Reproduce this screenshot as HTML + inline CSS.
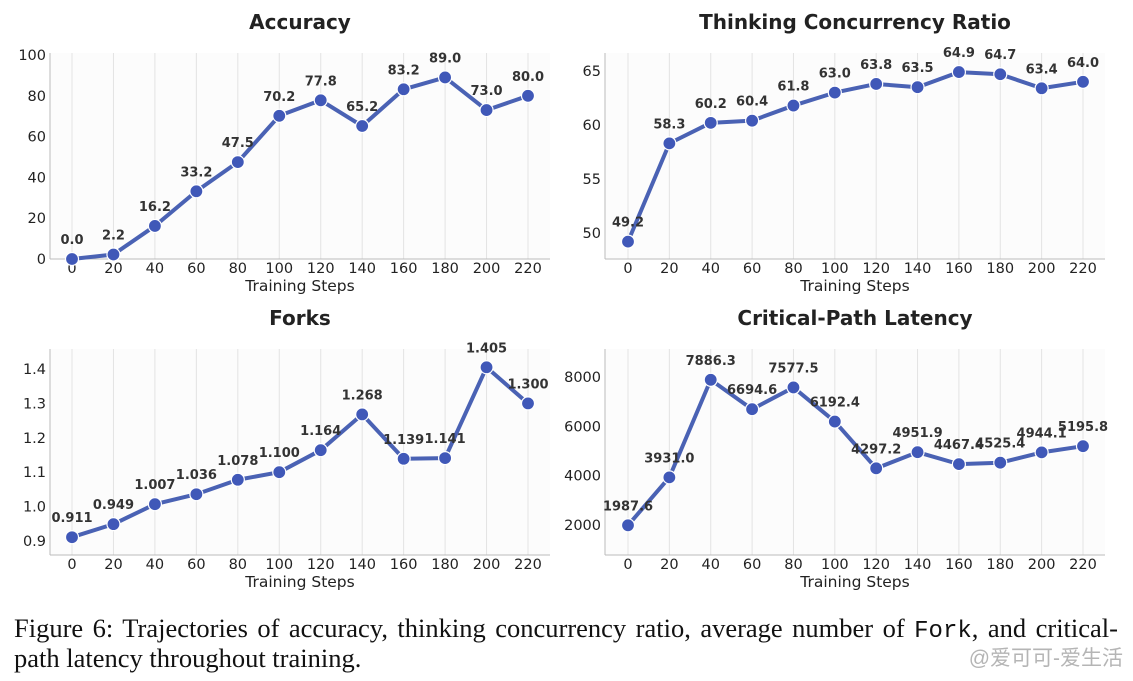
<!DOCTYPE html>
<html><head><meta charset="utf-8"><style>
body{margin:0;background:#fff;width:1133px;height:681px;overflow:hidden;position:relative}
svg{position:absolute;left:0;top:0}
.cap{position:absolute;left:14px;width:1104px;font-family:"Liberation Serif",serif;font-size:26.5px;line-height:30px;color:#111;white-space:nowrap}
.l1{top:613px;text-align:justify;text-align-last:justify}
.l2{top:643px}
.mono{font-family:"Liberation Mono",monospace;font-size:24px}
.wm{position:absolute;right:10px;top:642px;font-family:"Liberation Sans","Noto Sans CJK SC",sans-serif;font-size:21px;color:#b5b5b5}
</style></head><body>
<svg id="chart" width="1133" height="681"></svg>
<div class="cap l1">Figure 6: Trajectories of accuracy, thinking concurrency ratio, average number of <span class="mono">Fork</span>, and critical-</div>
<div class="cap l2">path latency throughout training.</div>
<div class="wm">@爱可可-爱生活</div>
<script>
const steps=[0,20,40,60,80,100,120,140,160,180,200,220];
const accuracy=[0.0,2.2,16.2,33.2,47.5,70.2,77.8,65.2,83.2,89.0,73.0,80.0];
const accLabels=["0.0","2.2","16.2","33.2","47.5","70.2","77.8","65.2","83.2","89.0","73.0","80.0"];
const ratio=[49.2,58.3,60.2,60.4,61.8,63.0,63.8,63.5,64.9,64.7,63.4,64.0];
const ratioLabels=["49.2","58.3","60.2","60.4","61.8","63.0","63.8","63.5","64.9","64.7","63.4","64.0"];
const forks=[0.911,0.949,1.007,1.036,1.078,1.100,1.164,1.268,1.139,1.141,1.405,1.300];
const forkLabels=["0.911","0.949","1.007","1.036","1.078","1.100","1.164","1.268","1.139","1.141","1.405","1.300"];
const latency=[1987.6,3931.0,7886.3,6694.6,7577.5,6192.4,4297.2,4951.9,4467.4,4525.4,4944.1,5195.8];
const latLabels=["1987.6","3931.0","7886.3","6694.6","7577.5","6192.4","4297.2","4951.9","4467.4","4525.4","4944.1","5195.8"];
const accTicks=[0,20,40,60,80,100];
const ratioTicks=[50,55,60,65];
const forkTicks=[0.9,1.0,1.1,1.2,1.3,1.4];
const forkTickLabels=["0.9","1.0","1.1","1.2","1.3","1.4"];
const latTicks=[2000,4000,6000,8000];

const svg=document.getElementById('chart');
const NS='http://www.w3.org/2000/svg';
function mk(tag,attrs,parent){const e=document.createElementNS(NS,tag);for(const k in attrs)e.setAttribute(k,attrs[k]);(parent||svg).appendChild(e);return e;}
function panel(o){
  const g=mk('g',{});
  
  
  const sx=v=>o.x0+(v-0)*(o.x1-o.x0)/220;
  const sy=v=>o.yA+(v-o.vA)*(o.yB-o.yA)/(o.vB-o.vA);
  mk('rect',{x:o.L,y:o.T,width:o.R-o.L,height:o.B-o.T,fill:'#fcfcfc'},g);
  steps.forEach(s=>{const l=mk('line',{x1:sx(s),x2:sx(s),y1:o.T,y2:o.B,stroke:'#e3e3e3','stroke-width':1},g);
    
    const t=mk('text',{x:sx(s),y:o.B+14,'text-anchor':'middle','font-size':14.5,'font-family':'DejaVu Sans, sans-serif',fill:'#222'},g);t.textContent=s;
    });
  mk('line',{x1:o.L,x2:o.L,y1:o.T,y2:o.B,stroke:'#bbb'},g);
  mk('line',{x1:o.L,x2:o.R,y1:o.B,y2:o.B,stroke:'#bbb'},g);
  o.ticks.forEach((v,i)=>{const t=mk('text',{x:o.L-4,y:sy(v)+5,'text-anchor':'end','font-size':14.5,'font-family':'DejaVu Sans, sans-serif',fill:'#222'},g);t.textContent=o.tickLabels?o.tickLabels[i]:v;
    });
  const tt=mk('text',{x:(o.L+o.R)/2,y:o.T-24,'text-anchor':'middle','font-size':20,'font-weight':'bold','font-family':'DejaVu Sans, sans-serif',fill:'#222'},g);tt.textContent=o.title;
  
  const xl=mk('text',{x:(o.L+o.R)/2,y:o.B+32,'text-anchor':'middle','font-size':15.5,'font-family':'DejaVu Sans, sans-serif',fill:'#222'},g);xl.textContent='Training Steps';
  
  const pts=o.data.map((v,i)=>sx(steps[i])+','+sy(v)).join(' ');
  const pl=mk('polyline',{points:pts,fill:'none',stroke:'#4a62b4','stroke-width':4,'stroke-linejoin':'round'},g);
  
  o.data.forEach((v,i)=>{
    const c=mk('circle',{cx:sx(steps[i]),cy:sy(v),r:6.5,fill:'#4058b8',stroke:'#fff','stroke-width':1.2},g);
    
    const t=mk('text',{x:sx(steps[i]),y:sy(v)-15,'text-anchor':'middle','font-size':13,'font-weight':'bold','font-family':'DejaVu Sans, sans-serif',fill:'#333'},g);t.textContent=o.labels[i];
    });
}
panel({name:'accuracy-panel',title:'Accuracy',L:50,R:550,T:53,B:259,x0:72,x1:528,vA:0,yA:259,vB:100,yB:55,data:accuracy,labels:accLabels,ticks:accTicks});
panel({name:'concurrency-ratio-panel',title:'Thinking Concurrency Ratio',L:605,R:1105,T:53,B:259,x0:628,x1:1083,vA:50,yA:233,vB:65,yB:71,data:ratio,labels:ratioLabels,ticks:ratioTicks});
panel({name:'forks-panel',title:'Forks',L:50,R:550,T:349,B:555,x0:72,x1:528,vA:0.9,yA:541,vB:1.4,yB:369,data:forks,labels:forkLabels,ticks:forkTicks,tickLabels:forkTickLabels});
panel({name:'latency-panel',title:'Critical-Path Latency',L:605,R:1105,T:349,B:555,x0:628,x1:1083,vA:2000,yA:525,vB:8000,yB:377,data:latency,labels:latLabels,ticks:latTicks});
</script>
</body></html>
